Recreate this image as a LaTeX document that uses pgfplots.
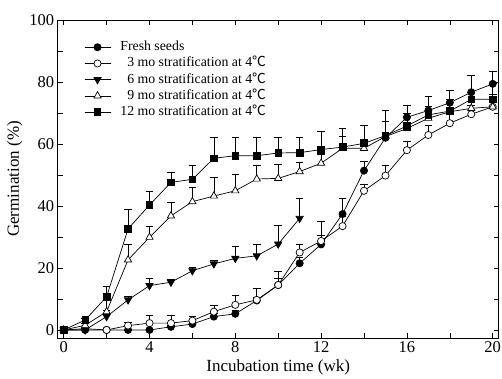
\documentclass[border=0pt]{standalone}
\usepackage{fontspec}
\setmainfont{Liberation Serif}
\newfontfamily\cjk{Noto Sans CJK SC}
\usepackage{pgfplots}
\pgfplotsset{compat=1.18}
\usepackage{pgfplotstable}

\pgfplotstableread{
x y e
0 0 0
1 0 0
2 0 0
3 0 0
4 0 0
5 1.0 0.5
6 1.9 1
7 4.3 1
8 5.2 1
9 9.5 1
10 14.5 2
11 21.5 2
12 27.6 3
13 37.4 5
14 51.4 3
15 62.0 9
16 68.6 4
17 70.8 4.7
18 73.3 4
19 76.7 5.5
20 79.4 4
}\fresh
\pgfplotstableread{
x y e
0 0 0
1 0.4 0
2 0 0
3 1.4 1.2
4 2.2 2.6
5 2.2 2.6
6 3.0 1.5
7 5.9 2
8 8.1 3.2
9 9.7 3.8
10 14.5 4.5
11 25.0 2.7
12 28.7 6.3
13 33.5 3
14 44.9 2
15 49.8 3.4
16 58.0 3
17 62.9 3
18 66.7 3
19 69.6 3
20 72.0 3
}\three
\pgfplotstableread{
x y e
0 0 0
1 0 0
2 4.3 2
3 9.7 1
4 14.3 2.4
5 15.4 1
6 19.1 1.2
7 21.3 1
8 23.1 3.8
9 23.9 3.6
10 27.7 6.2
11 36.0 6.3
}\six
\pgfplotstableread{
x y e
0 0 0
1 1.5 0.5
2 5.9 4.3
3 22.6 5
4 29.9 3.4
5 36.8 4.4
6 41.4 4.5
7 43.2 5.9
8 44.9 5.4
9 48.7 4.5
10 48.9 4.5
11 51.1 2.9
12 53.8 3
13 58.6 4
14 58.6 3
15 62.4 5
16 65.0 4
17 68.3 4
18 70.4 4
19 71.5 5
20 72.0 4
}\nine
\pgfplotstableread{
x y e
0 0 0
1 3.2 0.5
2 10.7 3.3
3 32.6 6.4
4 40.3 4.3
5 47.6 3.4
6 48.6 4.4
7 55.4 6.6
8 56.2 5.8
9 56.2 5.8
10 57.1 4.9
11 57.2 4.8
12 58.2 5.8
13 59.0 6
14 60.2 5.8
15 62.7 8.3
16 65.8 4
17 69.4 6
18 70.6 6.8
19 74.4 7.9
20 74.4 5
}\twelve

\begin{document}
\begin{tikzpicture}
\begin{axis}[
  scale only axis,
  width=441pt, height=318pt,
  xmin=-0.28, xmax=20.28,
  ymin=-2.6, ymax=100,
  xtick={0,4,...,20},
  minor xtick={2,6,...,18},
  ytick={0,20,...,100},
  minor ytick={10,30,...,90},
  tick align=inside,
  major tick length=5pt,
  minor tick length=5pt,
  every tick/.style={black, line width=0.6pt},
  axis line style={line width=0.8pt},
  /pgf/number format/assume math mode=true,
  ticklabel style={font=\fontsize{16.5}{18}\selectfont},
  xlabel={Incubation time (wk)},
  ylabel={Germination (\%)},
  label style={font=\fontsize{17}{19}\selectfont},
  legend cell align=left,
  legend style={at={(0.0596,0.94)}, anchor=north west, draw=none, fill=none,
    inner sep=0pt,
    font=\fontsize{13.8}{16}\selectfont, row sep=0.2pt,
    nodes={text height=10pt, text depth=3pt, inner sep=1.5pt},
    /tikz/every odd column/.append style={column sep=8pt}},
  legend image code/.code={\draw[mark repeat=2,mark phase=2] plot coordinates {(0pt,0pt)(13pt,0pt)(26pt,0pt)};},
  every axis plot/.append style={black, line width=0.7pt},
  error bars/error bar style={black, line width=0.7pt},
  error bars/error mark options={rotate=90, mark size=3.8pt, line width=0.7pt, black},
]
\addplot[mark=*, mark size=3.6pt, mark options={fill=black, solid},
  error bars/.cd, y dir=plus, y explicit] table[x=x,y=y,y error=e] {\fresh};
\addlegendentry{Fresh seeds}
\addplot[mark=*, mark size=3.6pt, mark options={fill=white, draw=black, solid},
  error bars/.cd, y dir=plus, y explicit] table[x=x,y=y,y error=e] {\three};
\addlegendentry{\phantom{1}3 mo stratification at 4{\cjk ℃}}
\addplot[mark=triangle*, mark size=4.2pt, mark options={fill=black, solid, rotate=180},
  error bars/.cd, y dir=plus, y explicit] table[x=x,y=y,y error=e] {\six};
\addlegendentry{\phantom{1}6 mo stratification at 4{\cjk ℃}}
\addplot[mark=triangle*, mark size=4.2pt, mark options={fill=white, draw=black, solid},
  error bars/.cd, y dir=plus, y explicit] table[x=x,y=y,y error=e] {\nine};
\addlegendentry{\phantom{1}9 mo stratification at 4{\cjk ℃}}
\addplot[mark=square*, mark size=3.3pt, mark options={fill=black, solid},
  error bars/.cd, y dir=plus, y explicit] table[x=x,y=y,y error=e] {\twelve};
\addlegendentry{12 mo stratification at 4{\cjk ℃}}
\end{axis}
\pgfresetboundingbox
\path[use as bounding box] (current axis.south west) ++(-57.7pt,-40pt) rectangle ++(502pt,378pt);
\end{tikzpicture}
\end{document}
